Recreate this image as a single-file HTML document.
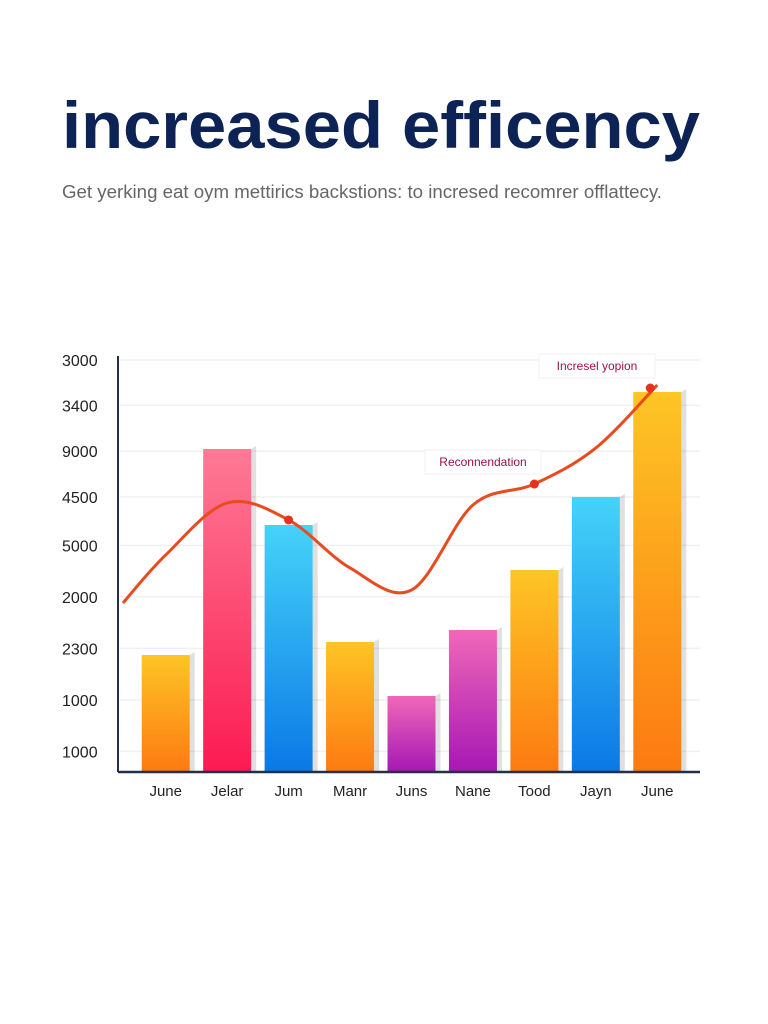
<!DOCTYPE html>
<html><head><meta charset="utf-8"><style>
html,body{margin:0;padding:0;background:#fff;}
svg{display:block;font-family:"Liberation Sans",sans-serif;}
</style></head><body>
<svg width="768" height="1024" viewBox="0 0 768 1024">
<defs>
<linearGradient id="gOrange" x1="0" y1="0" x2="0" y2="1"><stop offset="0" stop-color="#fdc525"/><stop offset="1" stop-color="#fd7a12"/></linearGradient>
<linearGradient id="gPink" x1="0" y1="0" x2="0" y2="1"><stop offset="0" stop-color="#fd7a95"/><stop offset="1" stop-color="#fc1a52"/></linearGradient>
<linearGradient id="gBlue" x1="0" y1="0" x2="0" y2="1"><stop offset="0" stop-color="#45d3f8"/><stop offset="1" stop-color="#0b78e6"/></linearGradient>
<linearGradient id="gPurple" x1="0" y1="0" x2="0" y2="1"><stop offset="0" stop-color="#f068b8"/><stop offset="1" stop-color="#a518b4"/></linearGradient>
</defs>
<text x="62" y="148" font-size="66" font-weight="bold" fill="#0d2356" textLength="638" lengthAdjust="spacingAndGlyphs">increased efficency</text>
<text x="62" y="198" font-size="18" fill="#666" textLength="600" lengthAdjust="spacingAndGlyphs">Get yerking eat oym mettirics backstions: to incresed recomrer offlattecy.</text>
<g id="grid"></g>
<g id="yticks"></g>
<g id="bars"></g>
<g id="xlabels"></g>
<path id="trend" fill="none" stroke="#e84b1e" stroke-width="3"/>
<g id="marks"></g>
<line x1="118" y1="356" x2="118" y2="772" stroke="#233048" stroke-width="2"/>
<line x1="118" y1="772" x2="700" y2="772" stroke="#233048" stroke-width="2.5"/>
</svg>
<script>
const categories = ["June","Jelar","Jum","Manr","Juns","Nane","Tood","Jayn","June"];
const barValues = [1136,3136,2398,1262,738,1379,1961,2670,3689];
const barColors = ["gOrange","gPink","gBlue","gOrange","gPurple","gPurple","gOrange","gBlue","gOrange"];
const lineStart = 1641;
const lineValues = [2107,2612,2447,1981,1767,2592,2796,3146,3757];
const tickLabels = ["3000","3400","9000","4500","5000","2000","2300","1000","1000"];
const tickRows = [4000,3560,3115,2670,2200,1700,1200,700,200];

const svgNS="http://www.w3.org/2000/svg";
const y0=772, yTop=360, vMax=4000;
function y(v){return y0-(v/vMax)*(y0-yTop);}
const xStart=135, xEnd=688;
const step=(xEnd-xStart)/categories.length;
function xc(i){return xStart+step*(i+0.5);}
const bw=48;
function mk(tag,attrs,parent){const e=document.createElementNS(svgNS,tag);for(const k in attrs)e.setAttribute(k,attrs[k]);parent.appendChild(e);return e;}

const grid=document.getElementById('grid'),yt=document.getElementById('yticks');
tickRows.forEach((v,i)=>{
  const l=mk('line',{x1:120,x2:700,y1:y(v),y2:y(v),stroke:'#eef0f4','stroke-width':1.5},grid);
  
  
  const t=mk('text',{x:62,y:y(v)+6,'font-size':16,fill:'#222'},yt);
  
  
  t.textContent=tickLabels[i];
});
const bars=document.getElementById('bars'),xl=document.getElementById('xlabels');
categories.forEach((c,i)=>{
  const x=xc(i)-bw/2, top=y(barValues[i]);
  const r=mk('rect',{x:x,y:top,width:bw,height:y0-top,fill:'url(#'+barColors[i]+')'},bars);
  
  
  const s=mk('polygon',{points:`${x+bw},${top} ${x+bw+5},${top-3} ${x+bw+5},${y0} ${x+bw},${y0}`,fill:'#000','fill-opacity':0.12},bars);
  
  
  const t=mk('text',{x:xc(i),y:796,'font-size':15,fill:'#222','text-anchor':'middle'},xl);
  
  
  t.textContent=c;
});
// trend line
const pts=[[123,y(lineStart)]].concat(lineValues.map((v,i)=>[xc(i),y(v)]));
let d=`M${pts[0][0]},${pts[0][1]}`;
for(let i=0;i<pts.length-1;i++){
  const p0=pts[Math.max(0,i-1)],p1=pts[i],p2=pts[i+1],p3=pts[Math.min(pts.length-1,i+2)];
  const c1=[p1[0]+(p2[0]-p0[0])/6,p1[1]+(p2[1]-p0[1])/6];
  const c2=[p2[0]-(p3[0]-p1[0])/6,p2[1]-(p3[1]-p1[1])/6];
  d+=` C${c1[0]},${c1[1]} ${c2[0]},${c2[1]} ${p2[0]},${p2[1]}`;
}
document.getElementById('trend').setAttribute('d',d);
const marks=document.getElementById('marks');
[[2,null],[6,"Reconnendation"],[8,"Incresel yopion"]].forEach(([i,label])=>{
  const cx=xc(i)-(i===8?7:0), cy=y(lineValues[i])+(i===8?3:0);
  const c=mk('circle',{cx:cx,cy:cy,r:4.5,fill:'#e8321e'},marks);
  
  
  if(label){
    const lx=i===8?597:483, ly=i===8?cy-18:cy-18;
    const b=mk('rect',{x:lx-58,y:ly-16,width:116,height:24,fill:'#fff',stroke:'#f2f2f2'},marks);
    
    
    const t=mk('text',{x:lx,y:ly,'font-size':12,fill:'#9b1050','text-anchor':'middle'},marks);
    
    
    t.textContent=label;
  }
});
</script>
</body></html>
